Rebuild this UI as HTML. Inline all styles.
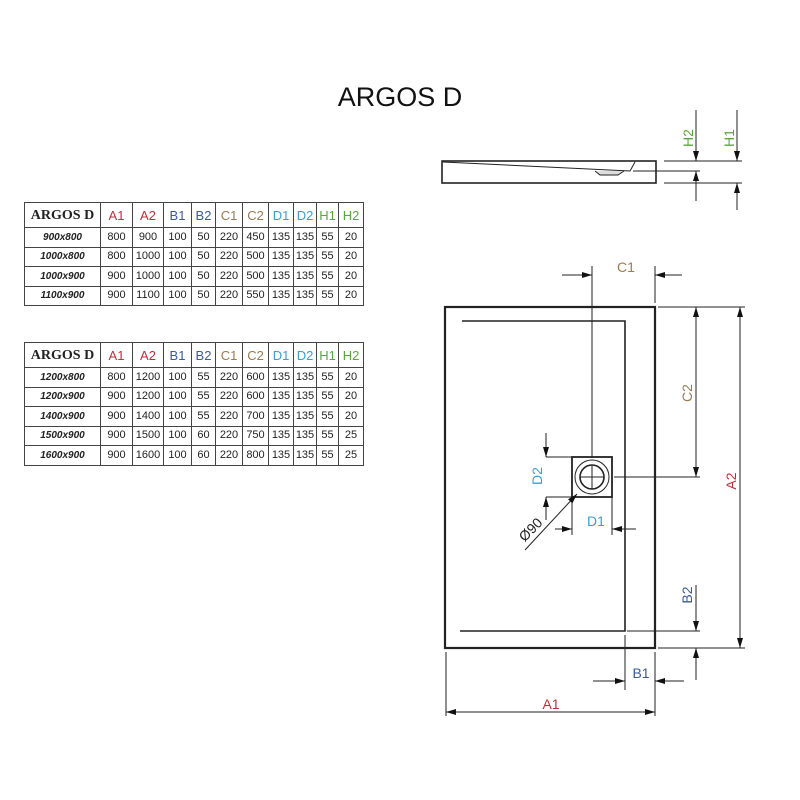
<!DOCTYPE html>
<html><head><meta charset="utf-8"><style>
body{margin:0;background:#fff}
svg{display:block;position:absolute;left:0;top:0}
table{position:absolute;left:24px;border-collapse:collapse;border:1.5px solid #333;font-family:"Liberation Sans",sans-serif;font-size:11px;color:#222;table-layout:fixed;width:339px}
td{border:1px solid #444;text-align:center;vertical-align:middle;padding:0;height:18.5px;line-height:13px;overflow:hidden;white-space:nowrap}
tr.h td{height:24px;font-size:13px}
tr.h td:first-child{font-family:"Liberation Serif",serif;font-weight:bold;font-style:normal;font-size:14px;color:#222}
td:first-child{font-weight:bold;font-style:italic;font-size:10px}
.a{color:#c0303a}.b{color:#3a5a9a}.c{color:#9a7a50}.d{color:#3aa0d0}.e{color:#5aa83a}
</style></head><body>
<svg width="800" height="800" viewBox="0 0 800 800" xmlns="http://www.w3.org/2000/svg" font-family="Liberation Sans, sans-serif">
<defs>
<marker id="ar" viewBox="0 0 10 6" refX="10" refY="3" markerWidth="10" markerHeight="6" orient="auto" markerUnits="userSpaceOnUse"><path d="M0,0L10,3L0,6z" fill="#111"/></marker>
</defs>
<text x="400" y="106" font-size="27" text-anchor="middle" fill="#111">ARGOS D</text>
<g stroke="#222" fill="none" stroke-width="1">
<rect x="442" y="161" width="214" height="22" stroke-width="1.6"/>
<path d="M443,162 L630,171 L635,162"/>
<path d="M595,171 L600,175 L618,175 L624,171" fill="#ddd"/>
<line x1="633" y1="171" x2="700" y2="171"/>
<line x1="664" y1="161" x2="742" y2="161"/>
<line x1="664" y1="183" x2="742" y2="183"/>
<line x1="696" y1="110" x2="696" y2="161" marker-end="url(#ar)"/>
<line x1="696" y1="201" x2="696" y2="171" marker-end="url(#ar)"/>
<line x1="737" y1="110" x2="737" y2="161" marker-end="url(#ar)"/>
<line x1="737" y1="210" x2="737" y2="183" marker-end="url(#ar)"/>
<rect x="445" y="307" width="210" height="341" stroke-width="2.2"/>
<path d="M462,321 L625,321 L625,631 L460,631" stroke-width="1.6"/>
<rect x="572" y="457" width="40" height="40" stroke-width="1.8"/>
<circle cx="592" cy="477" r="17"/>
<circle cx="592" cy="477" r="12" stroke-width="1.6"/>
<line x1="580" y1="477" x2="604" y2="477"/><line x1="592" y1="465" x2="592" y2="489"/>
<line x1="592" y1="266" x2="592" y2="457"/>
<line x1="655" y1="266" x2="655" y2="303"/>
<line x1="562" y1="275" x2="592" y2="275" marker-end="url(#ar)"/>
<line x1="682" y1="275" x2="655" y2="275" marker-end="url(#ar)"/>
<line x1="658" y1="307" x2="745" y2="307"/>
<line x1="614" y1="477" x2="700" y2="477"/>
<line x1="696" y1="380" x2="696" y2="307" marker-end="url(#ar)"/>
<line x1="696" y1="380" x2="696" y2="477" marker-end="url(#ar)"/>
<line x1="740" y1="480" x2="740" y2="648" marker-end="url(#ar)"/>
<line x1="740" y1="480" x2="740" y2="307" marker-end="url(#ar)"/>
<line x1="658" y1="648" x2="745" y2="648"/>
<line x1="546" y1="457" x2="572" y2="457"/><line x1="546" y1="497" x2="572" y2="497"/>
<line x1="546" y1="433" x2="546" y2="457" marker-end="url(#ar)"/>
<line x1="546" y1="520" x2="546" y2="497" marker-end="url(#ar)"/>
<line x1="572" y1="497" x2="572" y2="535"/><line x1="612" y1="497" x2="612" y2="535"/>
<line x1="555" y1="529" x2="572" y2="529" marker-end="url(#ar)"/>
<line x1="636" y1="529" x2="612" y2="529" marker-end="url(#ar)"/>
<line x1="525" y1="550" x2="577" y2="494" marker-end="url(#ar)"/>
<line x1="627" y1="631" x2="700" y2="631"/>
<line x1="696" y1="585" x2="696" y2="631" marker-end="url(#ar)"/>
<line x1="696" y1="680" x2="696" y2="648" marker-end="url(#ar)"/>
<line x1="625" y1="635" x2="625" y2="690"/>
<line x1="655" y1="652" x2="655" y2="716"/>
<line x1="446" y1="652" x2="446" y2="716"/>
<line x1="593" y1="681" x2="625" y2="681" marker-end="url(#ar)"/>
<line x1="684" y1="681" x2="655" y2="681" marker-end="url(#ar)"/>
<line x1="550" y1="712" x2="446" y2="712" marker-end="url(#ar)"/>
<line x1="550" y1="712" x2="655" y2="712" marker-end="url(#ar)"/>
</g>
<g font-size="14">
<text x="693" y="138" fill="#5aa83a" transform="rotate(-90 693 138)" text-anchor="middle">H2</text>
<text x="734" y="138" fill="#5aa83a" transform="rotate(-90 734 138)" text-anchor="middle">H1</text>
<text x="626" y="272" fill="#9a7a50" text-anchor="middle">C1</text>
<text x="692" y="393" fill="#9a7a50" transform="rotate(-90 692 393)" text-anchor="middle">C2</text>
<text x="736" y="481" fill="#c0303a" transform="rotate(-90 736 481)" text-anchor="middle">A2</text>
<text x="542" y="476" fill="#3aa0d0" transform="rotate(-90 542 476)" text-anchor="middle">D2</text>
<text x="596" y="526" fill="#3aa0d0" text-anchor="middle">D1</text>
<text x="534" y="533" fill="#222" transform="rotate(-45 534 533)" text-anchor="middle">Ø90</text>
<text x="692" y="595" fill="#3a5a9a" transform="rotate(-90 692 595)" text-anchor="middle">B2</text>
<text x="641" y="678" fill="#3a5a9a" text-anchor="middle">B1</text>
<text x="551" y="709" fill="#c0303a" text-anchor="middle">A1</text>
</g>
</svg>

<table style="top:202px">
<colgroup><col style="width:76px"><col style="width:32px"><col style="width:31px"><col style="width:28px"><col style="width:24px"><col style="width:27px"><col style="width:26px"><col style="width:25px"><col style="width:23px"><col style="width:22px"><col style="width:25px"></colgroup>
<tr class="h"><td>ARGOS D</td><td class="a">A1</td><td class="a">A2</td><td class="b">B1</td><td class="b">B2</td><td class="c">C1</td><td class="c">C2</td><td class="d">D1</td><td class="d">D2</td><td class="e">H1</td><td class="e">H2</td></tr>
<tr><td>900x800</td><td>800</td><td>900</td><td>100</td><td>50</td><td>220</td><td>450</td><td>135</td><td>135</td><td>55</td><td>20</td></tr>
<tr><td>1000x800</td><td>800</td><td>1000</td><td>100</td><td>50</td><td>220</td><td>500</td><td>135</td><td>135</td><td>55</td><td>20</td></tr>
<tr><td>1000x900</td><td>900</td><td>1000</td><td>100</td><td>50</td><td>220</td><td>500</td><td>135</td><td>135</td><td>55</td><td>20</td></tr>
<tr><td>1100x900</td><td>900</td><td>1100</td><td>100</td><td>50</td><td>220</td><td>550</td><td>135</td><td>135</td><td>55</td><td>20</td></tr>
</table>

<table style="top:342px">
<colgroup><col style="width:76px"><col style="width:32px"><col style="width:31px"><col style="width:28px"><col style="width:24px"><col style="width:27px"><col style="width:26px"><col style="width:25px"><col style="width:23px"><col style="width:22px"><col style="width:25px"></colgroup>
<tr class="h"><td>ARGOS D</td><td class="a">A1</td><td class="a">A2</td><td class="b">B1</td><td class="b">B2</td><td class="c">C1</td><td class="c">C2</td><td class="d">D1</td><td class="d">D2</td><td class="e">H1</td><td class="e">H2</td></tr>
<tr><td>1200x800</td><td>800</td><td>1200</td><td>100</td><td>55</td><td>220</td><td>600</td><td>135</td><td>135</td><td>55</td><td>20</td></tr>
<tr><td>1200x900</td><td>900</td><td>1200</td><td>100</td><td>55</td><td>220</td><td>600</td><td>135</td><td>135</td><td>55</td><td>20</td></tr>
<tr><td>1400x900</td><td>900</td><td>1400</td><td>100</td><td>55</td><td>220</td><td>700</td><td>135</td><td>135</td><td>55</td><td>20</td></tr>
<tr><td>1500x900</td><td>900</td><td>1500</td><td>100</td><td>60</td><td>220</td><td>750</td><td>135</td><td>135</td><td>55</td><td>25</td></tr>
<tr><td>1600x900</td><td>900</td><td>1600</td><td>100</td><td>60</td><td>220</td><td>800</td><td>135</td><td>135</td><td>55</td><td>25</td></tr>
</table>
</body></html>
